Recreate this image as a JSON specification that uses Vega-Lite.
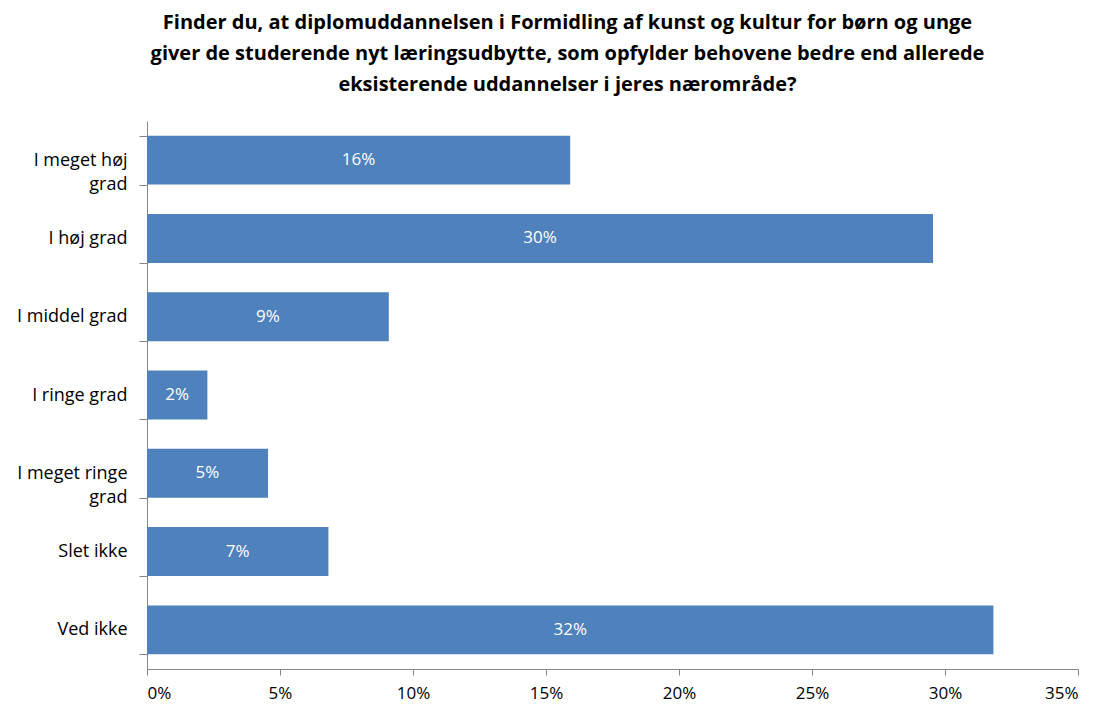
{
  "$schema": "https://vega.github.io/schema/vega-lite/v6.json",
  "width": 931,
  "height": 548,
  "autosize": {"type": "none"},
  "padding": {"left": 147, "top": 121, "right": 21, "bottom": 35},
  "background": "white",
  "config": {
    "view": {"stroke": null},
    "font": "Open Sans",
    "axis": {"domainColor": "#868686", "tickColor": "#868686", "labelColor": "#000000", "labelFontSize": 17, "labelFont": "Open Sans", "grid": false, "title": null}
  },
  "title": {
    "text": ["Finder du, at diplomuddannelsen i Formidling af kunst og kultur for børn og unge", "giver de studerende nyt læringsudbytte, som opfylder behovene bedre end allerede", "eksisterende uddannelser i jeres nærområde?"],
    "anchor": "middle",
    "frame": "group",
    "dx": -45,
    "fontSize": 20,
    "fontWeight": "bold",
    "lineHeight": 31,
    "font": "Open Sans",
    "color": "#000000",
    "offset": 17
  },
  "data": {
    "values": [
      {"svar": "I meget høj grad", "andel": 0.1591},
      {"svar": "I høj grad", "andel": 0.2955},
      {"svar": "I middel grad", "andel": 0.0909},
      {"svar": "I ringe grad", "andel": 0.0227},
      {"svar": "I meget ringe grad", "andel": 0.0455},
      {"svar": "Slet ikke", "andel": 0.0682},
      {"svar": "Ved ikke", "andel": 0.3182}
    ]
  },
  "encoding": {
    "y": {
      "field": "svar",
      "type": "nominal",
      "sort": null,
      "scale": {"paddingInner": 0.375, "paddingOuter": 0.1875},
      "axis": {
        "tickBand": "extent",
        "tickSize": 8,
        "labelPadding": 12,
        "labelFontSize": 18,
        "labelLineHeight": 24,
        "labelExpr": "datum.value == 'I meget høj grad' ? ['I meget høj', 'grad'] : datum.value == 'I meget ringe grad' ? ['I meget ringe', 'grad'] : datum.value"
      }
    }
  },
  "resolve": {"scale": {"x": "independent"}},
  "layer": [
    {
      "mark": {"type": "bar", "color": "#4F81BD"},
      "encoding": {
        "x": {
          "field": "andel",
          "type": "quantitative",
          "scale": {"domain": [0, 0.35], "nice": false},
          "axis": {"values": [0, 0.05, 0.1, 0.15, 0.2, 0.25, 0.3, 0.35], "format": ".0%", "tickSize": 6, "labelPadding": 10}
        }
      }
    },
    {
      "mark": {"type": "text", "color": "white", "fontSize": 17, "font": "Open Sans"},
      "encoding": {
        "x": {"field": "andel", "type": "quantitative", "scale": {"domain": [0, 0.7], "nice": false}, "axis": null},
        "text": {"field": "andel", "type": "quantitative", "format": ".0%"}
      }
    }
  ]
}
